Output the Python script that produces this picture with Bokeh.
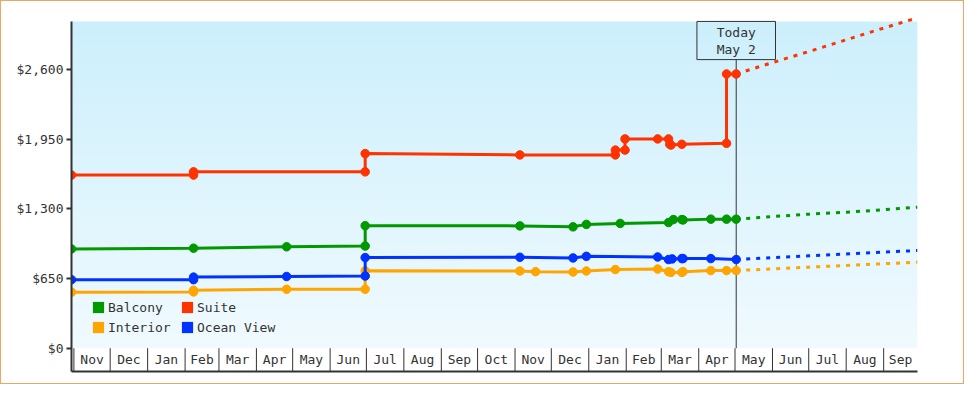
from datetime import datetime
import pandas as pd
from bokeh.plotting import figure
from bokeh.models import Range1d, FixedTicker, NumeralTickFormatter, Legend, LegendItem
from bokeh.core.properties import value
from bokeh.embed import file_html
from bokeh.resources import INLINE

# ---------------- data ----------------
MONTH_LABELS = ["Nov", "Dec", "Jan", "Feb", "Mar", "Apr", "May", "Jun", "Jul", "Aug", "Sep", "Oct",
                "Nov", "Dec", "Jan", "Feb", "Mar", "Apr", "May", "Jun", "Jul", "Aug", "Sep"]
FIRST_MONTH = "2022-11-01"
Y_TICKS = [0, 650, 1300, 1950, 2600]
TODAY = "2024-05-02"
TODAY_TEXT = ["Today", "May 2"]

SERIES_NAMES = ["Balcony", "Suite", "Interior", "Ocean View"]
SERIES_COLORS = ["#009900", "#ff3300", "#ffa500", "#0033ff"]

BALCONY_DATES = ["2022-10-30", "2023-02-08", "2023-04-26", "2023-06-30", "2023-06-30", "2023-11-05",
                 "2023-12-19", "2023-12-30", "2024-01-27", "2024-03-07", "2024-03-11", "2024-03-18",
                 "2024-03-19", "2024-04-11", "2024-04-24", "2024-05-02"]
BALCONY_PRICES = [926, 933, 946, 953, 1143, 1141, 1132, 1155, 1164, 1172, 1200, 1200, 1197, 1204, 1204, 1204]

SUITE_DATES = ["2022-10-30", "2023-02-08", "2023-02-08", "2023-06-30", "2023-06-30", "2023-11-05",
               "2024-01-23", "2024-01-23", "2024-01-31", "2024-01-31", "2024-02-27", "2024-03-07",
               "2024-03-08", "2024-03-09", "2024-03-18", "2024-04-24", "2024-04-24", "2024-05-02"]
SUITE_PRICES = [1615, 1615, 1645, 1645, 1815, 1803, 1803, 1848, 1848, 1952, 1952, 1952,
                1902, 1895, 1902, 1911, 2558, 2558]

INTERIOR_DATES = ["2022-10-30", "2023-02-08", "2023-02-08", "2023-04-26", "2023-06-30", "2023-06-30",
                  "2023-11-05", "2023-11-18", "2023-12-19", "2023-12-30", "2024-01-23", "2024-02-27",
                  "2024-03-07", "2024-03-09", "2024-03-18", "2024-03-19", "2024-04-11", "2024-04-24",
                  "2024-05-02"]
INTERIOR_PRICES = [523, 525, 540, 550, 550, 722, 720, 714, 711, 720, 734, 738,
                   714, 707, 707, 714, 724, 724, 724]

OCEAN_DATES = ["2022-10-30", "2023-02-08", "2023-02-08", "2023-04-26", "2023-06-30", "2023-06-30",
               "2023-11-05", "2023-12-19", "2023-12-30", "2024-02-27", "2024-03-07", "2024-03-10",
               "2024-03-18", "2024-03-19", "2024-04-11", "2024-05-02"]
OCEAN_PRICES = [639, 639, 663, 669, 673, 845, 848, 842, 857, 851, 827, 833, 836, 836, 836, 827]

FORECAST_DATES = ["2024-05-02", "2024-06-01", "2024-07-01", "2024-08-01", "2024-09-01", "2024-09-29"]
BALCONY_FORECAST = [1204, 1228, 1250, 1268, 1292, 1315]
SUITE_FORECAST = [2558, 2664, 2767, 2877, 2986, 3082]
INTERIOR_FORECAST = [724, 740, 756, 772, 788, 803]
OCEAN_FORECAST = [827, 845, 862, 879, 896, 911]

# ---------------- layout constants ----------------
FONT = "DejaVu Sans Mono"
INK = "#333333"
X_START = datetime(2022, 10, 30)
X_END = datetime(2024, 9, 29)
Y_START, Y_END = -217.3, 3122.0
Y_TOP = 3048              # top of the plotting band
MONTH_LABEL_Y = -105.0
BOX_BOTTOM, BOX_TOP = 2692, 3048
BOX_HALF_DAYS = 32.5

def d(lst):
    return pd.to_datetime(lst)

p = figure(width=964, height=384, x_axis_type="datetime",
           x_range=Range1d(X_START, X_END), y_range=Range1d(Y_START, Y_END),
           output_backend="svg", toolbar_location=None,
           min_border_left=70, min_border_right=48, min_border_top=12, min_border_bottom=14)
p.outline_line_color = None
p.xgrid.visible = False
p.ygrid.visible = False
p.background_fill_color = "white"
p.border_fill_color = "white"
p.styles = {"border": "1px solid #e8a865"}

# background gradient band
N = 90
step = Y_TOP / N
top_rgb = (204, 239, 252)
bot_rgb = (240, 250, 254)
bottoms, tops, cols = [], [], []
for i in range(N):
    t = (i + 0.5) / N
    c = tuple(int(round(bot_rgb[k] + (top_rgb[k] - bot_rgb[k]) * t)) for k in range(3))
    bottoms.append(i * step)
    tops.append(min((i + 1.6) * step, Y_TOP))
    cols.append("#%02x%02x%02x" % c)
p.quad(left=[X_START] * N, right=[X_END] * N, bottom=bottoms, top=tops,
       fill_color=cols, line_color=None)

# x axis (bottom line only)
p.xaxis.ticker = FixedTicker(ticks=[])
p.xaxis.major_tick_out = 0
p.xaxis.major_tick_in = 0
p.xaxis.minor_tick_line_color = None
p.xaxis.major_label_text_font_size = "0px"
p.xaxis.major_label_standoff = 0
p.xaxis.axis_line_width = 2
p.xaxis.axis_line_color = INK

# y axis
p.yaxis.ticker = FixedTicker(ticks=Y_TICKS)
p.yaxis.formatter = NumeralTickFormatter(format="$0,0")
p.yaxis.bounds = (Y_START, Y_TOP)
p.yaxis.axis_line_width = 2
p.yaxis.axis_line_color = INK
p.yaxis.major_tick_out = 5
p.yaxis.major_tick_in = 0
p.yaxis.major_tick_line_width = 2
p.yaxis.major_tick_line_color = INK
p.yaxis.minor_tick_line_color = None
p.yaxis.major_label_text_font = FONT
p.yaxis.major_label_text_font_size = "13px"
p.yaxis.major_label_text_color = INK
p.yaxis.major_label_standoff = 3

# month cells under the plot
starts = pd.date_range(FIRST_MONTH, periods=len(MONTH_LABELS), freq="MS")
ends = list(starts[1:]) + [pd.Timestamp(X_END)]
ends = [min(e, pd.Timestamp(X_END)) for e in ends]
mids = [s + (e - s) / 2 for s, e in zip(starts, ends)]
p.segment(x0=list(starts), y0=[0] * len(starts), x1=list(starts), y1=[Y_START] * len(starts),
          line_color=INK, line_width=1)
p.text(x=mids, y=[MONTH_LABEL_Y] * len(mids), text=MONTH_LABELS, text_align="center",
       text_baseline="middle", text_font=value(FONT), text_font_size="13px", text_color=INK)

# today marker
today = pd.Timestamp(TODAY)
p.segment(x0=[today], y0=[0], x1=[today], y1=[BOX_BOTTOM], line_color=INK, line_width=1)
half = pd.Timedelta(days=BOX_HALF_DAYS)
p.quad(left=[today - half], right=[today + half], bottom=[BOX_BOTTOM], top=[BOX_TOP],
       fill_color=None, line_color=INK, line_width=1)
p.text(x=[today, today], y=[2943, 2782], text=TODAY_TEXT, text_align="center",
       text_baseline="middle", text_font=value(FONT), text_font_size="13px", text_color=INK)

# series
series = {
    "Interior": (INTERIOR_DATES, INTERIOR_PRICES, INTERIOR_FORECAST),
    "Ocean View": (OCEAN_DATES, OCEAN_PRICES, OCEAN_FORECAST),
    "Balcony": (BALCONY_DATES, BALCONY_PRICES, BALCONY_FORECAST),
    "Suite": (SUITE_DATES, SUITE_PRICES, SUITE_FORECAST),
}
color_of = dict(zip(SERIES_NAMES, SERIES_COLORS))
for name, (dates, prices, fc) in series.items():
    c = color_of[name]
    p.line(d(FORECAST_DATES), fc, line_color=c, line_width=3, line_dash="4 6")
    p.line(d(dates), prices, line_color=c, line_width=3)
    p.scatter(d(dates), prices, marker="circle", size=8.5, fill_color=c, line_color=c)

# legend with square swatches (swatch renderers sit outside the visible range)
items = []
off = pd.Timestamp(X_END) + pd.Timedelta(days=40)
for name in SERIES_NAMES:
    r = p.quad(left=[off], right=[off + pd.Timedelta(days=1)], top=[1], bottom=[0],
               fill_color=color_of[name], line_color=None)
    items.append(LegendItem(label=name, renderers=[r]))
legend = Legend(items=items, location=(20, 36), orientation="horizontal", ncols=2,
                glyph_width=14, glyph_height=14, label_standoff=3, spacing=4,
                label_width=68, label_height=16, padding=0, margin=0,
                border_line_color=None, background_fill_alpha=0,
                label_text_font=FONT, label_text_font_size="13px", label_text_color=INK)
p.add_layout(legend)

open("out.html", "w").write(file_html(p, INLINE))
